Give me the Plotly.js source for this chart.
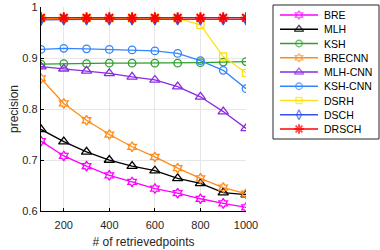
<!DOCTYPE html>
<html><head><meta charset="utf-8">
<script src="https://cdn.plot.ly/plotly-3.0.1.min.js"></script>
<style>html,body{margin:0;padding:0;background:#fff}#chart{width:380px;height:250px}</style>
</head><body><div id="chart"></div>
<script>
const xPoints = [100, 200, 300, 400, 500, 600, 700, 800, 900, 1000];
const xTicks = [200, 400, 600, 800, 1000];
const yTicks = [0.6, 0.7, 0.8, 0.9, 1];
const seriesNames = ["BRE", "MLH", "KSH", "BRECNN", "MLH-CNN", "KSH-CNN", "DSRH", "DSCH", "DRSCH"];
const BRE     = [0.737, 0.708, 0.688, 0.670, 0.657, 0.644, 0.635, 0.624, 0.615, 0.607];
const MLH     = [0.760, 0.736, 0.716, 0.700, 0.688, 0.679, 0.664, 0.654, 0.636, 0.632];
const KSH     = [0.888, 0.889, 0.889, 0.890, 0.890, 0.890, 0.890, 0.891, 0.892, 0.893];
const BRECNN  = [0.860, 0.811, 0.778, 0.750, 0.726, 0.706, 0.684, 0.664, 0.646, 0.634];
const MLHCNN  = [0.883, 0.879, 0.875, 0.870, 0.863, 0.857, 0.844, 0.824, 0.795, 0.762];
const KSHCNN  = [0.917, 0.919, 0.918, 0.917, 0.916, 0.914, 0.909, 0.895, 0.876, 0.840];
const DSRH    = [0.978, 0.978, 0.978, 0.978, 0.978, 0.978, 0.978, 0.965, 0.903, 0.871];
const DSCH    = [0.975, 0.976, 0.976, 0.976, 0.976, 0.976, 0.976, 0.976, 0.976, 0.976];
const DRSCH   = [0.979, 0.979, 0.979, 0.979, 0.979, 0.979, 0.979, 0.979, 0.979, 0.979];

const allValues = [BRE, MLH, KSH, BRECNN, MLHCNN, KSHCNN, DSRH, DSCH, DRSCH];
const colors  = ["#FF00FF", "#000000", "#2CA02C", "#FF8C1A", "#8B2BE2", "#3385FF", "#FFE014", "#3350F0", "#FF0000"];
const symbols = ["hexagram-open", "triangle-up-open", "circle-open", "hexagram-open", "triangle-up-open", "circle-open", "square-open", "diamond-tall-open", "asterisk-open"];
const sizes   = [7.5, 9, 7.5, 7.5, 9, 7.5, 7, 8, 9];

const traces = seriesNames.map((n, i) => ({
  x: xPoints, y: allValues[i], name: n, type: "scatter", mode: "lines+markers",
  xaxis: "x", yaxis: "y", showlegend: false,
  line: {color: colors[i], width: 1.3},
  marker: {symbol: symbols[i], size: sizes[i], color: colors[i], line: {color: colors[i], width: i === 8 ? 2 : 1.3}}
}));

// custom legend drawn in its own hidden axes (pixel-like units inside the legend box)
const legTop = 10, legStep = 14.25;
const annotations = [];
seriesNames.forEach((n, i) => {
  const yy = legTop + legStep * i;
  traces.push({
    x: [7, 26, 45], y: [yy, yy, yy], xaxis: "x2", yaxis: "y2", type: "scatter", mode: "lines+markers",
    showlegend: false, hoverinfo: "skip",
    line: {color: colors[i], width: 1.3},
    marker: {symbol: symbols[i], size: [0, sizes[i] - 1, 0], color: colors[i], line: {color: colors[i], width: i === 8 ? 2 : 1.3}}
  });
  annotations.push({x: 49, y: yy, xref: "x2", yref: "y2", text: n, showarrow: false, xanchor: "left", yanchor: "middle",
                    font: {size: 10.5, color: "#000"}});
});

const layout = {
  width: 380, height: 250,
  margin: {l: 41, r: 1, t: 5, b: 39},
  paper_bgcolor: "#fff", plot_bgcolor: "rgba(0,0,0,0)",
  font: {family: "Liberation Sans, Arial, sans-serif", color: "#262626"},
  showlegend: false,
  annotations: annotations,
  shapes: [{type: "rect", xref: "x2 domain", yref: "y2 domain", x0: 0, x1: 1, y0: 0, y1: 1,
            line: {color: "#262626", width: 1}, fillcolor: "rgba(0,0,0,0)"}],
  xaxis: {domain: [0, 0.6065], range: [100, 1000], tickvals: xTicks, showgrid: true, gridcolor: "#E6E6E6",
          showline: true, linecolor: "#000", linewidth: 1.3, ticks: "inside", ticklen: 3, tickcolor: "#000",
          zeroline: false, tickfont: {size: 11}, ticklabelstandoff: 3,
          title: {text: "# of retrievedpoints", font: {size: 12}, standoff: 8}},
  yaxis: {domain: [0, 0.990], range: [0.6, 1], tickvals: yTicks, showgrid: true, gridcolor: "#E6E6E6",
          showline: true, linecolor: "#000", linewidth: 1.3, ticks: "inside", ticklen: 3, tickcolor: "#000",
          zeroline: false, tickfont: {size: 11}, title: {text: "precision", font: {size: 12}, standoff: 1}},
  xaxis2: {domain: [0.6864, 1], range: [0, 106], visible: false, fixedrange: true, anchor: "y2"},
  yaxis2: {domain: [0.3495, 1], range: [134, 0], visible: false, fixedrange: true, anchor: "x2"}
};
Plotly.newPlot("chart", traces, layout, {displayModeBar: false, staticPlot: true});
</script></body></html>
